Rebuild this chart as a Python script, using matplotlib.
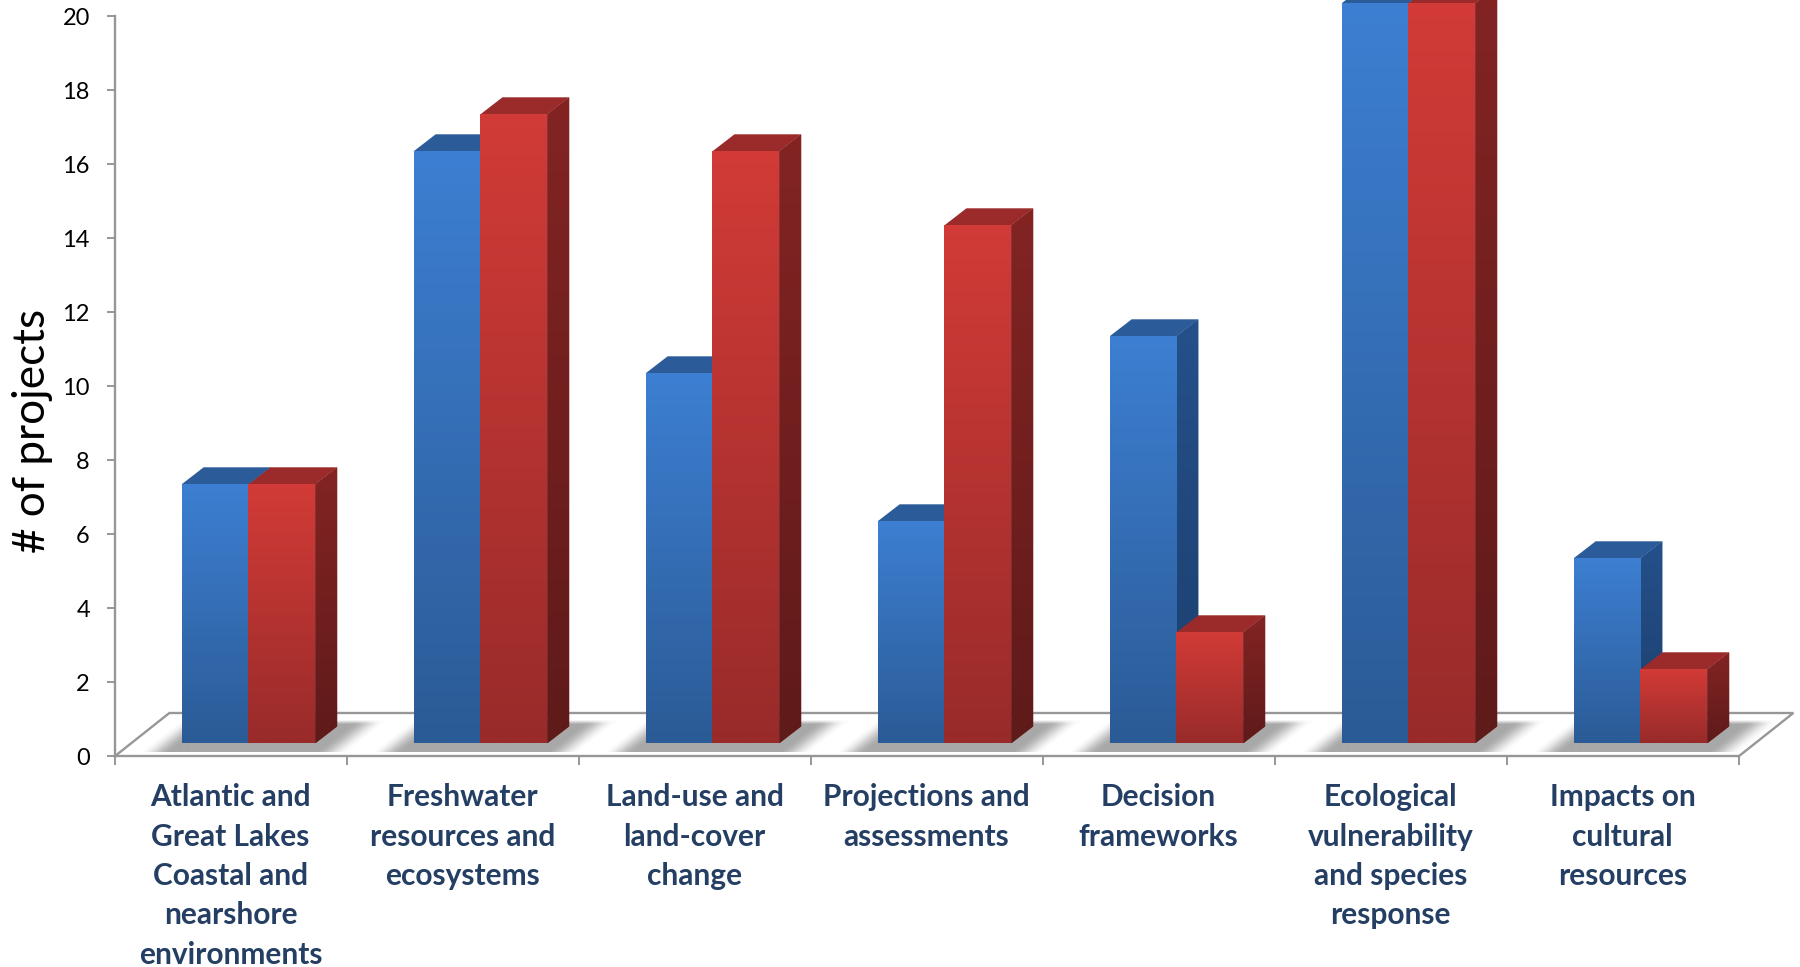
import numpy as np
import matplotlib
matplotlib.use("Agg")
import matplotlib.pyplot as plt
from matplotlib.colors import to_rgb
from matplotlib.patches import Polygon

categories = [
    "Atlantic and\nGreat Lakes\nCoastal and\nnearshore\nenvironments",
    "Freshwater\nresources and\necosystems",
    "Land-use and\nland-cover\nchange",
    "Projections and\nassessments",
    "Decision\nframeworks",
    "Ecological\nvulnerability\nand species\nresponse",
    "Impacts on\ncultural\nresources",
]
blue_values = [7, 16, 10, 6, 11, 20, 5]
red_values = [7, 17, 16, 14, 3, 20, 2]
y_ticks = list(range(0, 21, 2))
y_label = "# of projects"

W, H = 1800, 967
LEFT, RIGHT = 114.6, 1800
BASE_Y, UNIT_Y = 756.4, 37.0
UNIT_X = 232.0
GRAY = "#979797"
LABEL_COLOR = "#243F63"

BAR_OFFSET = 0.289
BAR_W = 0.288
BASE = (BASE_Y - 743.3) / UNIT_Y
DX = 22 / UNIT_X
DY = 17 / UNIT_Y
FLOOR_DX = 0.236
FLOOR_DY = (BASE_Y - 713) / UNIT_Y

BLUE = dict(front=("#3D7FD2", "#2B5B96"), side=("#25508A", "#1C3F6E"), top="#2B5C99")
RED = dict(front=("#D23B37", "#982B2A"), side=("#832423", "#5F1A1A"), top="#9A2B2A")

fig = plt.figure(figsize=(W / 100, H / 100), dpi=100, facecolor="white")
ax = fig.add_axes([LEFT / W, 1 - BASE_Y / H, (RIGHT - LEFT) / W, BASE_Y / H])
ax.set_xlim(0, (RIGHT - LEFT) / UNIT_X)
ax.set_ylim(0, BASE_Y / UNIT_Y)


def gradient(top, bottom):
    t, b = np.array(to_rgb(top)), np.array(to_rgb(bottom))
    s = np.linspace(0, 1, 128)[:, None, None]
    return (1 - s) * t.reshape(1, 1, 3) + s * b.reshape(1, 1, 3)


def fill_gradient(clip, extent, top, bottom, z):
    im = ax.imshow(gradient(top, bottom), extent=extent, aspect="auto",
                   interpolation="bilinear", zorder=z)
    im.set_clip_path(clip)


def smooth(a, b, v):
    s = np.clip((v - a) / (b - a), 0, 1)
    return s * s * (3 - 2 * s)


def floor_shadow(x0, z):
    # soft shadow, sheared along the floor depth direction (all sizes in pixels)
    x_px = np.arange(-60, 225)
    h_px = np.arange(32, 0, -1) - 0.5
    xx, hh = np.meshgrid(x_px, h_px)
    u = xx - hh * 1.28
    alpha = smooth(-43, -12, u) * (1 - smooth(132, 165, u)) * np.clip((32 - hh) / 4, 0, 1)
    img = np.ones(xx.shape + (4,))
    img[..., :3] = to_rgb("#A8A8A8")
    img[..., 3] = alpha
    y_low = (BASE_Y - 752) / UNIT_Y
    y_high = (BASE_Y - 720) / UNIT_Y
    ax.imshow(img, extent=(x0 - 60 / UNIT_X, x0 + 225 / UNIT_X, y_low, y_high),
              aspect="auto", interpolation="bilinear", zorder=z)


def draw_bar(x, value, style, z):
    top_y = BASE + value
    side = Polygon([(x + BAR_W, BASE), (x + BAR_W + DX, BASE + DY),
                    (x + BAR_W + DX, top_y + DY), (x + BAR_W, top_y)],
                   closed=True, fc=style["side"][0], ec="none", zorder=z)
    ax.add_patch(side)
    fill_gradient(side, (x + BAR_W, x + BAR_W + DX, BASE, top_y + DY),
                  style["side"][0], style["side"][1], z + 0.1)
    ax.add_patch(Polygon([(x, top_y), (x + DX, top_y + DY),
                          (x + BAR_W + DX, top_y + DY), (x + BAR_W, top_y)],
                         closed=True, fc=style["top"], ec="none", zorder=z + 0.2))
    rect = ax.bar(x, value, width=BAR_W, bottom=BASE, align="edge",
                  color=style["front"][0], linewidth=0, zorder=z + 0.3)[0]
    fill_gradient(rect, (x, x + BAR_W, BASE, top_y),
                  style["front"][0], style["front"][1], z + 0.4)


xmax = ax.get_xlim()[1]
ymax = ax.get_ylim()[1]

for i in range(len(categories)):
    floor_shadow(i + BAR_OFFSET, 1.5)

ax.plot([0, FLOOR_DX, 7 + FLOOR_DX, 7], [0, FLOOR_DY, FLOOR_DY, 0],
        color=GRAY, lw=1.7, solid_joinstyle="miter", clip_on=False, zorder=1)

for i, (b, r) in enumerate(zip(blue_values, red_values)):
    base_x = i + BAR_OFFSET
    draw_bar(base_x, b, BLUE, 3 + i * 2)
    draw_bar(base_x + BAR_W, r, RED, 4 + i * 2)

ax.set_xlim(0, xmax)
ax.set_ylim(0, ymax)
ax.set_aspect("auto")

for name in ("top", "right"):
    ax.spines[name].set_visible(False)
for name in ("left", "bottom"):
    ax.spines[name].set_color(GRAY)
    ax.spines[name].set_linewidth(1.7)
ax.spines["left"].set_bounds(0, 20)
ax.spines["bottom"].set_bounds(0, 7)
ax.patch.set_alpha(0)

ax.set_yticks(y_ticks)
ax.tick_params(axis="y", length=5.8, width=1.4, color=GRAY, labelsize=17, pad=12,
               labelfontfamily="Lato", labelcolor="black")
ax.set_xticks(range(8))
ax.set_xticklabels([])
ax.tick_params(axis="x", which="major", length=6.5, width=1.4, color=GRAY)
ax.set_xticks(np.arange(len(categories)) + 0.5, minor=True)
ax.set_xticklabels(categories, minor=True, fontfamily="Lato", fontweight="bold",
                   fontsize=21.5, color=LABEL_COLOR, linespacing=1.49)
ax.tick_params(axis="x", which="minor", length=0, pad=19.5)

fig.text(33 / W, 1 - 431 / H, y_label, rotation=90, ha="center", va="center",
         fontfamily="Lato", fontsize=31.7, color="black")

fig.savefig("out.png", dpi=100, facecolor="white")
